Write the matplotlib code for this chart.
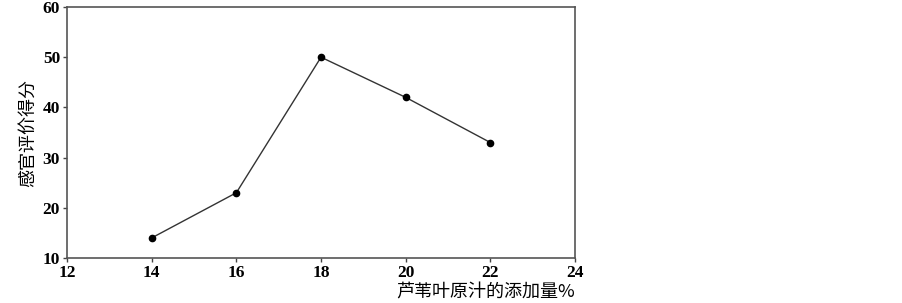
import matplotlib.pyplot as plt

# data
amount = [14, 16, 18, 20, 22]
score = [14, 23, 50, 42, 33]
xticks = [12, 14, 16, 18, 20, 22, 24]
yticks = [10, 20, 30, 40, 50, 60]

cjk = ['Noto Sans CJK SC', 'DejaVu Sans']

fig = plt.figure(figsize=(9.03, 3.03), dpi=100)
ax = fig.add_axes([0.0742, 0.1485, 0.5626, 0.8284])

ax.plot(amount, score, color='#333333', lw=1.0, marker='o', markersize=4.5,
        markerfacecolor='black', markeredgecolor='black')

ax.set_xlim(12, 24)
ax.set_ylim(10, 60)
ax.set_xticks(xticks)
ax.set_yticks(yticks)
ax.tick_params(direction='out', length=3, width=1, color='#444444', pad=2)
for lab in ax.get_xticklabels() + ax.get_yticklabels():
    lab.set_fontfamily('Liberation Serif')
    lab.set_fontsize(12.5)
    lab.set_fontweight('bold')
for s in ax.spines.values():
    s.set_color('#555555')
    s.set_linewidth(1.2)

ax.set_ylabel('感官评价得分', family=cjk, fontsize=13, labelpad=4)
ax.text(1.0, -0.1, '芦苇叶原汁的添加量%', transform=ax.transAxes, family=cjk,
        fontsize=13, ha='right', va='top')

plt.savefig('out.png', dpi=100)
